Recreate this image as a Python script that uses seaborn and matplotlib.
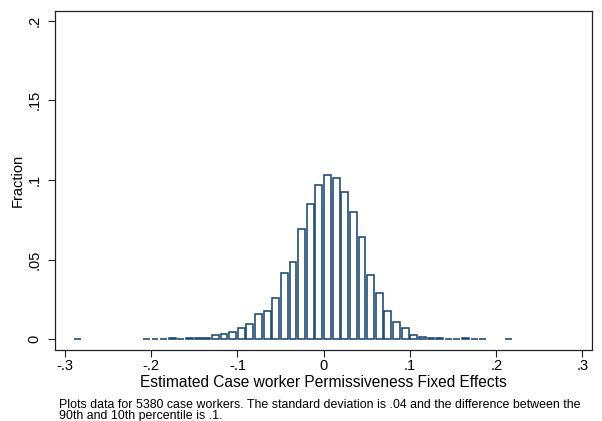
import numpy as np
import pandas as pd
import matplotlib
matplotlib.use("Agg")
import matplotlib.pyplot as plt
import seaborn as sns

# Histogram of estimated case-worker fixed effects (fraction per bin of width .01)
bin_start = -0.2906
bin_width = 0.01
fractions = [
    0.0002, 0.0, 0.0, 0.0, 0.0, 0.0, 0.0, 0.0,            # -.286 .. -.216
    0.0004, 0.0004, 0.0004, 0.0006, 0.0002, 0.0006,       # -.206 .. -.156
    0.0009, 0.0006, 0.0025, 0.0033, 0.0048, 0.0073,       # -.146 .. -.096
    0.0093, 0.0157, 0.0180, 0.0261, 0.0414, 0.0487,       # -.086 .. -.036
    0.0692, 0.0851, 0.0966, 0.1029, 0.1014, 0.0922,       # -.026 .. .024
    0.0799, 0.0642, 0.0405, 0.0292, 0.0176, 0.0109,       # .034 .. .084
    0.0069, 0.0026, 0.0016, 0.0006, 0.0011, 0.0004,       # .094 .. .144
    0.0004, 0.0006, 0.0004, 0.0004, 0.0, 0.0, 0.0002,     # .154 .. .214
]

x_ticks = [-0.3, -0.2, -0.1, 0.0, 0.1, 0.2, 0.3]
x_tick_labels = ["-.3", "-.2", "-.1", "0", ".1", ".2", ".3"]
y_ticks = [0.0, 0.05, 0.1, 0.15, 0.2]
y_tick_labels = ["0", ".05", ".1", ".15", ".2"]

x_title = "Estimated Case worker Permissiveness Fixed Effects"
y_title = "Fraction"
note = ("Plots data for 5380 case workers. The standard deviation is .04 and the difference between the\n"
        "90th and 10th percentile is .1.")

navy = "#1a476f"

sns.set_theme(style="white")
plt.rcParams["font.family"] = ["Liberation Sans", "DejaVu Sans"]

edges = [bin_start + bin_width * i for i in range(len(fractions) + 1)]
centers = [e + bin_width / 2 for e in edges[:-1]]
df = pd.DataFrame({"effect": centers, "fraction": fractions})
df = df[df["fraction"] > 0]

fig = plt.figure(figsize=(6.02, 4.21), dpi=100)
ax = fig.add_axes([55.3 / 602, 1 - 349.5 / 421, (591.7 - 55.3) / 602, (349.5 - 11) / 421])

sns.histplot(data=df, x="effect", weights="fraction", bins=edges, stat="count",
             shrink=0.8, ax=ax, legend=False)

# empty bins are not drawn; style the rest as outlined white bars
for p in list(ax.patches):
    if p.get_height() <= 0:
        p.remove()
    else:
        p.set_facecolor("white")
        p.set_edgecolor(navy)
        p.set_linewidth(1.15)
        p.set_alpha(1)

ax.set_xlim(-0.3112, 0.3107)
ax.set_ylim(-0.0064, 0.206)

ax.set_xticks(x_ticks)
ax.set_xticklabels(x_tick_labels)
ax.set_yticks(y_ticks)
ax.set_yticklabels(y_tick_labels, rotation=90, va="center")

ax.tick_params(axis="both", direction="out", length=5, width=0.8, color="#222222",
               labelsize=10.5, labelcolor="black", bottom=True, left=True)
ax.tick_params(axis="y", pad=5)
ax.tick_params(axis="x", pad=2)

for s in ax.spines.values():
    s.set_visible(True)
    s.set_color("#222222")
    s.set_linewidth(0.9)

ax.set_xlabel(x_title, fontsize=11.2, color="black", labelpad=1.5)
ax.set_ylabel(y_title, fontsize=10.5, color="black", labelpad=2)

fig.text(59 / 602, 1 - 398.5 / 421, note, ha="left", va="top", fontsize=8.9,
         color="black", linespacing=0.98)

fig.savefig("out.png", dpi=100, facecolor="white")
